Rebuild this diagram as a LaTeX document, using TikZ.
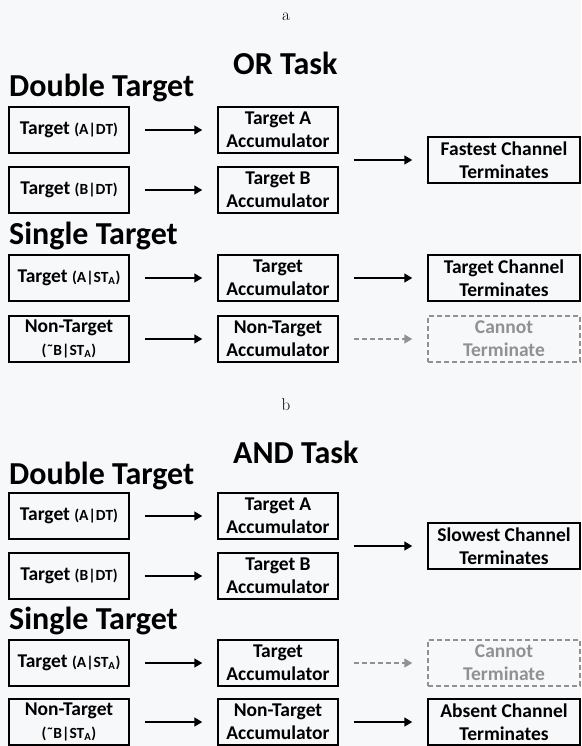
\documentclass[tikz,border=0pt]{standalone}
\usepackage{fontspec}
\newfontfamily\boxfont{Carlito}
\usepackage{tikz}
\usetikzlibrary{arrows.meta,calc}

\definecolor{paper}{RGB}{247,248,250}
\definecolor{faded}{RGB}{145,145,145}

% small condition text in brackets
\newcommand{\cond}[1]{{\fontsize{15.5}{17}\selectfont(#1)}}

\tikzset{
  box/.style={draw, line width=1.5pt, minimum width=120pt, minimum height=46pt,
    inner sep=0pt, align=center, font=\boxfont\bfseries\fontsize{19.5}{23}\selectfont},
  outbox/.style={box, minimum width=152pt},
  nobox/.style={outbox, draw=faded, text=faded, dash pattern=on 5pt off 3pt},
  heading/.style={anchor=base west, inner sep=0pt, font=\boxfont\bfseries\fontsize{32}{36}\selectfont},
  panel/.style={inner sep=0pt, font=\fontsize{17}{19}\selectfont},
  arr/.style={-{Triangle[length=8pt,width=9pt]}, line width=1.6pt, shorten <=15pt, shorten >=15pt},
  noarr/.style={arr, draw=faded, dash pattern=on 5pt off 3pt}
}

\begin{document}
\begin{tikzpicture}[x=1pt, y=-1pt]
    \useasboundingbox [fill=paper] (0,0) rectangle (581,746);

    % ---- OR task ----
    \node [panel] (lblA) at (286,17) {a};
    \node [heading] (orTitle) at (233,75) {OR Task};
    \node [heading] (orDouble) at (9,97) {Double Target};

    \node [box] (orTA) at (69,130) {Target \cond{A|DT}};
    \node [box] (orTB) at (69,190) {Target \cond{B|DT}};
    \node [box] (orAccA) at (278,130) {Target A\\Accumulator};
    \node [box] (orAccB) at (278,190) {Target B\\Accumulator};
    \node [outbox] (orFast) at (504,160) {Fastest Channel\\Terminates};

    \node [heading] (orSingle) at (9,244) {Single Target};

    \node [box] (orTS) at (69,278) {Target \cond{A|ST\textsubscript{A}}};
    \node [box] (orNS) at (69,339) {Non-Target\\\cond{˜B|ST\textsubscript{A}}};
    \node [box] (orAccT) at (278,278) {Target\\Accumulator};
    \node [box] (orAccN) at (278,339) {Non-Target\\Accumulator};
    \node [outbox] (orChan) at (504,278) {Target Channel\\Terminates};
    \node [nobox] (orNone) at (504,339) {Cannot\\Terminate};

    % Connections
    \draw [arr] (orTA) -- (orAccA);
    \draw [arr] (orTB) -- (orAccB);
    \coordinate (orJoin) at ($(orAccA.south east)!0.5!(orAccB.north east)$);
    \draw [arr] (orJoin) -- (orFast);
    \draw [arr] (orTS) -- (orAccT);
    \draw [arr] (orAccT) -- (orChan);
    \draw [arr] (orNS) -- (orAccN);
    \draw [noarr] (orAccN) -- (orNone);

    % ---- AND task ----
    \node [panel] (lblB) at (286,405) {b};
    \node [heading] (andTitle) at (233,463) {AND Task};
    \node [heading] (andDouble) at (9,484) {Double Target};

    \node [box] (andTA) at (69,516) {Target \cond{A|DT}};
    \node [box] (andTB) at (69,576) {Target \cond{B|DT}};
    \node [box] (andAccA) at (278,516) {Target A\\Accumulator};
    \node [box] (andAccB) at (278,576) {Target B\\Accumulator};
    \node [outbox] (andSlow) at (504,546) {Slowest Channel\\Terminates};

    \node [heading] (andSingle) at (9,629) {Single Target};

    \node [box] (andTS) at (69,663) {Target \cond{A|ST\textsubscript{A}}};
    \node [box] (andNS) at (69,722) {Non-Target\\\cond{˜B|ST\textsubscript{A}}};
    \node [box] (andAccT) at (278,663) {Target\\Accumulator};
    \node [box] (andAccN) at (278,722) {Non-Target\\Accumulator};
    \node [nobox] (andNone) at (504,663) {Cannot\\Terminate};
    \node [outbox] (andAbsent) at (504,722) {Absent Channel\\Terminates};

    % Connections
    \draw [arr] (andTA) -- (andAccA);
    \draw [arr] (andTB) -- (andAccB);
    \coordinate (andJoin) at ($(andAccA.south east)!0.5!(andAccB.north east)$);
    \draw [arr] (andJoin) -- (andSlow);
    \draw [arr] (andTS) -- (andAccT);
    \draw [noarr] (andAccT) -- (andNone);
    \draw [arr] (andNS) -- (andAccN);
    \draw [arr] (andAccN) -- (andAbsent);

\end{tikzpicture}
\end{document}
